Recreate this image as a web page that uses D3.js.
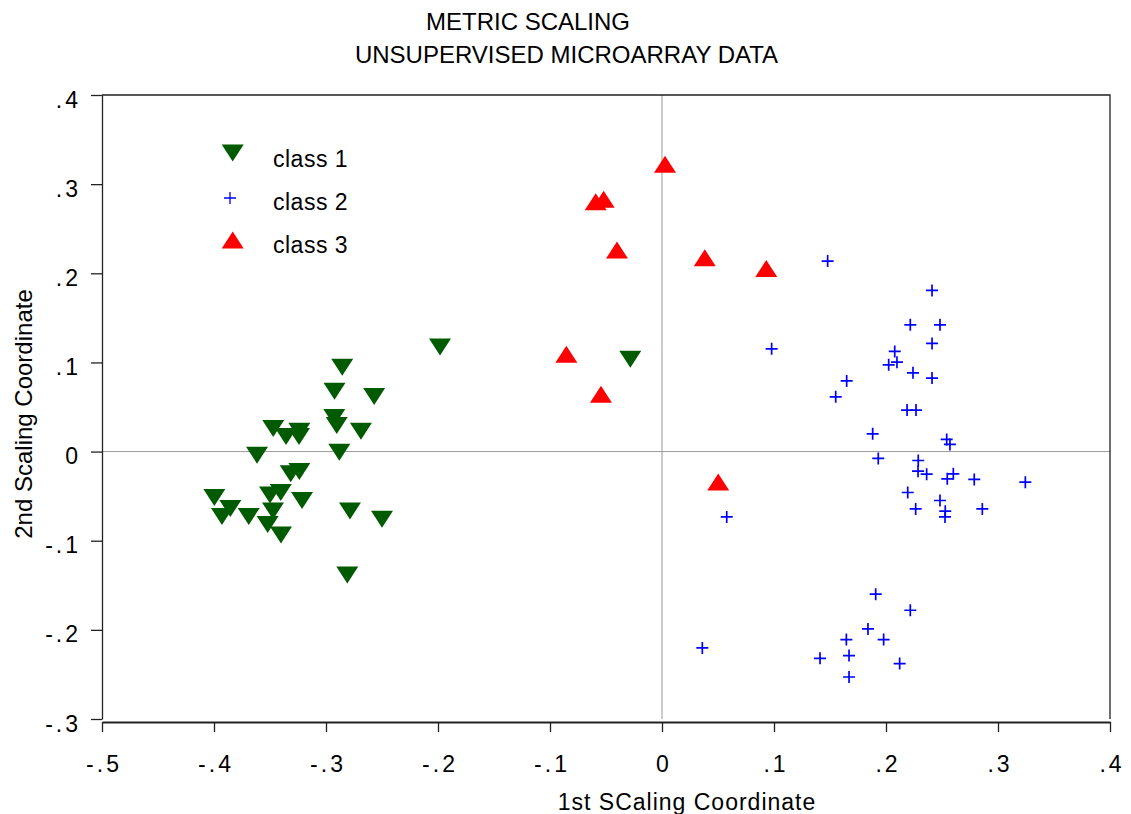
<!DOCTYPE html>
<html>
<head>
<meta charset="utf-8">
<script src="https://cdn.jsdelivr.net/npm/d3@7"></script>
<style>
  html, body { margin: 0; padding: 0; background: #fff; }
  svg { display: block; font-family: Arial, "Liberation Sans", sans-serif; }
</style>
</head>
<body>
<svg id="chart" width="1131" height="814"></svg>
<script>
// Metric scaling of unsupervised microarray data: 1st vs 2nd scaling coordinate per sample.
const class1X = [-0.2855, -0.2924, -0.2570, -0.2926, -0.2904, -0.2688, -0.3471, -0.3238, -0.3357, -0.3241,
                 -0.3616, -0.2881, -0.3315, -0.3238, -0.3997, -0.3500, -0.3404, -0.3214, -0.3854, -0.3929,
                 -0.3690, -0.3473, -0.3521, -0.3402, -0.2786, -0.2500, -0.2810, -0.1982, -0.0283];
const class1Y = [0.0947, 0.0678, 0.0618, 0.0383, 0.0293, 0.0229, 0.0259, 0.0229, 0.0169, 0.0169,
                 -0.0040, -0.0007, -0.0250, -0.0223, -0.0515, -0.0486, -0.0459, -0.0549, -0.0639, -0.0728,
                 -0.0728, -0.0666, -0.0818, -0.0935, -0.0666, -0.0759, -0.1384, 0.1172, 0.1037];

const class2X = [0.1479, 0.2411, 0.2217, 0.2482, 0.2411, 0.0979, 0.2078, 0.2024, 0.2098, 0.2241,
                 0.2411, 0.1649, 0.1551, 0.2188, 0.2268, 0.1881, 0.2542, 0.2571, 0.1931, 0.2288,
                 0.2286, 0.2363, 0.2601, 0.2547, 0.2788, 0.3244, 0.2194, 0.2482, 0.2265, 0.2860,
                 0.2529, 0.2527, 0.0578, 0.1908, 0.2217, 0.1839, 0.1646, 0.1979, 0.0360, 0.1411,
                 0.1670, 0.2122, 0.1670];
const class2Y = [0.2137, 0.1808, 0.1422, 0.1422, 0.1213, 0.1153, 0.1123, 0.0973, 0.1003, 0.0883,
                 0.0824, 0.0793, 0.0614, 0.0465, 0.0465, 0.0199, 0.0136, 0.0080, -0.0077, -0.0100,
                 -0.0220, -0.0254, -0.0250, -0.0306, -0.0313, -0.0343, -0.0459, -0.0549, -0.0643, -0.0643,
                 -0.0669, -0.0733, -0.0733, -0.1600, -0.1780, -0.1990, -0.2109, -0.2109, -0.2203, -0.2319,
                 -0.2288, -0.2378, -0.2529];

const class3X = [0.0027, -0.0592, -0.0521, -0.0402, 0.0382, 0.0931, -0.0854, -0.0545, 0.0502];
const class3Y = [0.3222, 0.2802, 0.2831, 0.2260, 0.2174, 0.2055, 0.1093, 0.0644, -0.0340];

const classNames = ["class 1", "class 2", "class 3"];
const titleLines = ["METRIC SCALING", "UNSUPERVISED MICROARRAY DATA"];
const xTickValues = [-0.5, -0.4, -0.3, -0.2, -0.1, 0, 0.1, 0.2, 0.3, 0.4];
const xTickLabels = ["-.5", "-.4", "-.3", "-.2", "-.1", "0", ".1", ".2", ".3", ".4"];
const yTickValues = [0.4, 0.3, 0.2, 0.1, 0, -0.1, -0.2, -0.3];
const yTickLabels = [".4", ".3", ".2", ".1", "0", "-.1", "-.2", "-.3"];
const xTitle = "1st SCaling Coordinate";
const yTitle = "2nd Scaling Coordinate";

const svg = d3.select("#chart");
const plotLeft = 102, plotRight = 1110, plotTop = 95, plotBottom = 719, xAxisY = 722;

const x = d3.scaleLinear().domain([-0.5, 0.4]).range([plotLeft, plotRight]);
const y = d3.scaleLinear().domain([-0.3, 0.4]).range([plotBottom, plotTop]);

const GREEN = "#005a00", BLUE = "#0000ff", RED = "#ff0000";

// Titles
svg.append("text").attr("x", 528).attr("y", 30).attr("text-anchor", "middle")
  .attr("font-size", 24).text(titleLines[0]);
svg.append("text").attr("x", 566.5).attr("y", 63).attr("text-anchor", "middle")
  .attr("font-size", 24).text(titleLines[1]);

// Zero reference lines
svg.append("line").attr("x1", x(0)).attr("x2", x(0)).attr("y1", plotTop).attr("y2", plotBottom)
  .attr("stroke", "#9a9a9a").attr("stroke-width", 1);
svg.append("line").attr("x1", plotLeft).attr("x2", plotRight).attr("y1", y(0)).attr("y2", y(0))
  .attr("stroke", "#9a9a9a").attr("stroke-width", 1);

// Frame: top and right edges
svg.append("path")
  .attr("d", `M${plotLeft},${plotTop}H${plotRight}V${plotBottom}`)
  .attr("fill", "none").attr("stroke", "#222").attr("stroke-width", 1.3);

// Y axis
const yAxis = d3.axisLeft(y).tickValues(yTickValues)
  .tickFormat((d, i) => yTickLabels[i]).tickSize(11).tickSizeOuter(0).tickPadding(10);
const gy = svg.append("g").attr("transform", `translate(${plotLeft},0)`).call(yAxis);
gy.select(".domain").attr("stroke", "#222").attr("stroke-width", 1.3);
gy.selectAll(".tick line").attr("stroke", "#222").attr("stroke-width", 1.3);
gy.selectAll(".tick text").attr("font-size", 23).attr("fill", "#000")
  .attr("font-family", "Arial, 'Liberation Sans', sans-serif")
  .style("letter-spacing", "3px").attr("dy", 12);

// X axis
const xAxis = d3.axisBottom(x).tickValues(xTickValues)
  .tickFormat((d, i) => xTickLabels[i]).tickSize(10).tickSizeOuter(0).tickPadding(24);
const gx = svg.append("g").attr("transform", `translate(0,${xAxisY})`).call(xAxis);
gx.select(".domain").attr("stroke", "#222").attr("stroke-width", 2);
gx.selectAll(".tick line").attr("stroke", "#222").attr("stroke-width", 1.3);
gx.selectAll(".tick text").attr("font-size", 23).attr("fill", "#000")
  .attr("font-family", "Arial, 'Liberation Sans', sans-serif")
  .style("letter-spacing", "3px").attr("dx", 1.5);

// Axis titles
svg.append("text").attr("x", 687).attr("y", 810).attr("text-anchor", "middle")
  .attr("font-size", 23).style("letter-spacing", "1px").text(xTitle);
svg.append("text").attr("transform", "translate(32,414) rotate(-90)")
  .attr("text-anchor", "middle").attr("font-size", 24).text(yTitle);

// Marker shapes (local geometry around the point)
const TW = 11, TH = 8.5;
const downTri = `M${-TW},${-TH}L${TW},${-TH}L0,${TH}Z`;
const upTri = `M${-TW},${TH}L${TW},${TH}L0,${-TH}Z`;
const plus = (h) => `M${-h},0H${h}M0,${-h}V${h}`;

const plot = svg.append("g");

plot.selectAll(".c1").data(d3.zip(class1X, class1Y)).join("path")
  .attr("class", "c1")
  .attr("transform", d => `translate(${x(d[0])},${y(d[1])})`)
  .attr("d", downTri).attr("fill", GREEN);

plot.selectAll(".c2").data(d3.zip(class2X, class2Y)).join("path")
  .attr("class", "c2")
  .attr("transform", d => `translate(${x(d[0])},${y(d[1])})`)
  .attr("d", plus(6)).attr("fill", "none").attr("stroke", BLUE).attr("stroke-width", 1.7);

plot.selectAll(".c3").data(d3.zip(class3X, class3Y)).join("path")
  .attr("class", "c3")
  .attr("transform", d => `translate(${x(d[0])},${y(d[1])})`)
  .attr("d", upTri).attr("fill", RED);

// Legend
const legendRows = [
  { name: classNames[0], shape: downTri, fill: GREEN, stroke: "none", mx: 232.7, my: 153, ty: 166.5 },
  { name: classNames[1], shape: plus(6), fill: "none", stroke: BLUE, mx: 230, my: 198, ty: 210 },
  { name: classNames[2], shape: upTri, fill: RED, stroke: "none", mx: 232.7, my: 240, ty: 252.5 }
];
const legend = svg.append("g");
legendRows.forEach(r => {
  legend.append("path").attr("transform", `translate(${r.mx},${r.my})`)
    .attr("d", r.shape).attr("fill", r.fill).attr("stroke", r.stroke).attr("stroke-width", 1.3);
  legend.append("text").attr("x", 273).attr("y", r.ty).attr("font-size", 23)
    .style("letter-spacing", "0.5px").text(r.name);
});
</script>
</body>
</html>
